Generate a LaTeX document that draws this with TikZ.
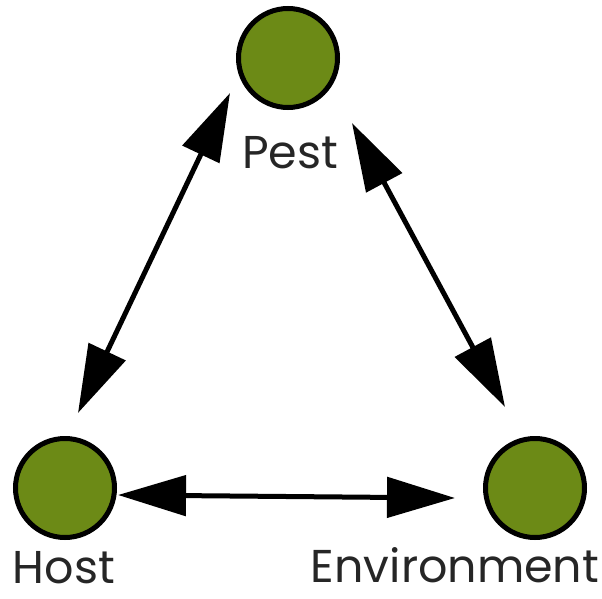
\documentclass[tikz,border=0pt]{standalone}
\usepackage{fontspec}
\setmainfont{Poppins}
\usetikzlibrary{arrows.meta}
\definecolor{dotgreen}{RGB}{108,138,22}
\tikzset{
  dot/.style={circle, draw=black, line width=5pt, fill=dotgreen, minimum size=99pt, inner sep=0pt},
  lbl/.style={anchor=base, inner sep=0pt, text depth=0pt, font=\fontsize{46}{46}\selectfont, text=black!85},
  link/.style={line width=5pt, {Triangle[length=68pt,width=40pt]}-{Triangle[length=68pt,width=40pt]}}
}
\begin{document}
\begin{tikzpicture}[x=1pt,y=-1pt]
\useasboundingbox (0,0) rectangle (602,599);
\node[dot] (pest) at (288,58) {};
\node[dot] (host) at (65,488) {};
\node[dot] (env) at (535,488) {};
\node[lbl] (pestlbl) at (290,168) {Pest};
\node[lbl] (hostlbl) at (64,583) {Host};
\node[lbl] (envlbl) at (455,582) {Environment};
\coordinate (ph) at (230,93);
\coordinate (hp) at (78,413);
\coordinate (pe) at (352,123);
\coordinate (ep) at (505,407);
\coordinate (he) at (118,495);
\coordinate (eh) at (455,498);
\draw[link] (ph) -- (hp);
\draw[link] (pe) -- (ep);
\draw[link] (he) -- (eh);
\end{tikzpicture}
\end{document}
